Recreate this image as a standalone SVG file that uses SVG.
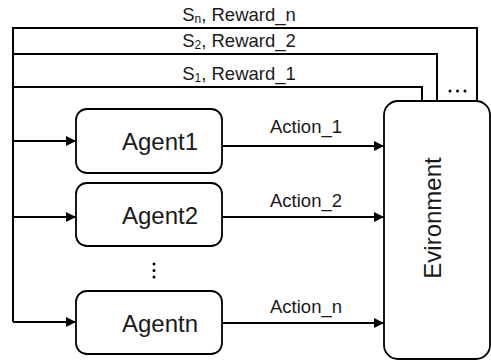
<svg xmlns="http://www.w3.org/2000/svg" width="491" height="361" viewBox="0 0 491 361">
  <defs>
    <style>
      .box { fill: #ffffff; stroke: #000000; stroke-width: 1.8; }
      .wire { fill: none; stroke: #000000; stroke-width: 2; }
      .lbl { font-family: "Liberation Sans", Arial, sans-serif; font-size: 18.5px; fill: #1a1a1a; text-anchor: middle; }
      .name { font-family: "Liberation Sans", Arial, sans-serif; font-size: 24px; fill: #1a1a1a; text-anchor: middle; }
      .sub { font-size: 12px; }
    </style>
    <marker id="arrow" viewBox="0 0 10 10" refX="10" refY="5" markerWidth="10" markerHeight="10" markerUnits="userSpaceOnUse" orient="auto">
      <path d="M0,0 L10,5 L0,10 Z" fill="#000000"/>
    </marker>
  </defs>

  <rect width="491" height="361" fill="#ffffff"/>

  <!-- connectors -->
  <g id="connectors">
    <!-- feedback loops from the environment back to the agents -->
    <path class="wire" d="M477,101 V28 H13 V322"/>
    <path class="wire" d="M437,101 V54 H13"/>
    <path class="wire" d="M422,101 V87 H13"/>
    <path class="wire" d="M13,141 H76" marker-end="url(#arrow)"/>
    <path class="wire" d="M13,217 H76" marker-end="url(#arrow)"/>
    <path class="wire" d="M13,322 H76" marker-end="url(#arrow)"/>
    <!-- actions from agents to the environment -->
    <path class="wire" d="M222,146 H384" marker-end="url(#arrow)"/>
    <path class="wire" d="M222,217 H384" marker-end="url(#arrow)"/>
    <path class="wire" d="M222,323 H384" marker-end="url(#arrow)"/>

    <text class="lbl" x="239" y="21">S<tspan class="sub" dy="2">n</tspan><tspan dy="-2">, Reward_n</tspan></text>
    <text class="lbl" x="239" y="47">S<tspan class="sub" dy="2">2</tspan><tspan dy="-2">, Reward_2</tspan></text>
    <text class="lbl" x="239" y="80">S<tspan class="sub" dy="2">1</tspan><tspan dy="-2">, Reward_1</tspan></text>
    <text class="lbl" x="306" y="133">Action_1</text>
    <text class="lbl" x="306" y="207">Action_2</text>
    <text class="lbl" x="306" y="313">Action_n</text>

    <!-- ellipses -->
    <g fill="#000000">
      <circle cx="450" cy="91" r="1.5"/>
      <circle cx="457.5" cy="91" r="1.5"/>
      <circle cx="465" cy="91" r="1.5"/>
      <circle cx="154" cy="264" r="1.5"/>
      <circle cx="154" cy="270.5" r="1.5"/>
      <circle cx="154" cy="277" r="1.5"/>
    </g>
  </g>

  <g id="agent1">
    <rect class="box" x="76" y="109" width="146" height="64" rx="11"/>
    <text class="name" x="160" y="150">Agent1</text>
  </g>
  <g id="agent2">
    <rect class="box" x="76" y="183" width="146" height="63" rx="11"/>
    <text class="name" x="160" y="224">Agent2</text>
  </g>
  <g id="agentn">
    <rect class="box" x="76" y="291" width="146" height="63" rx="11"/>
    <text class="name" x="160" y="332">Agentn</text>
  </g>

  <g id="environment">
    <rect class="box" x="384" y="101" width="106" height="258" rx="14" stroke-width="2"/>
    <text class="name" transform="translate(441,218) rotate(-90)" x="0" y="0">Evironment</text>
  </g>
</svg>
